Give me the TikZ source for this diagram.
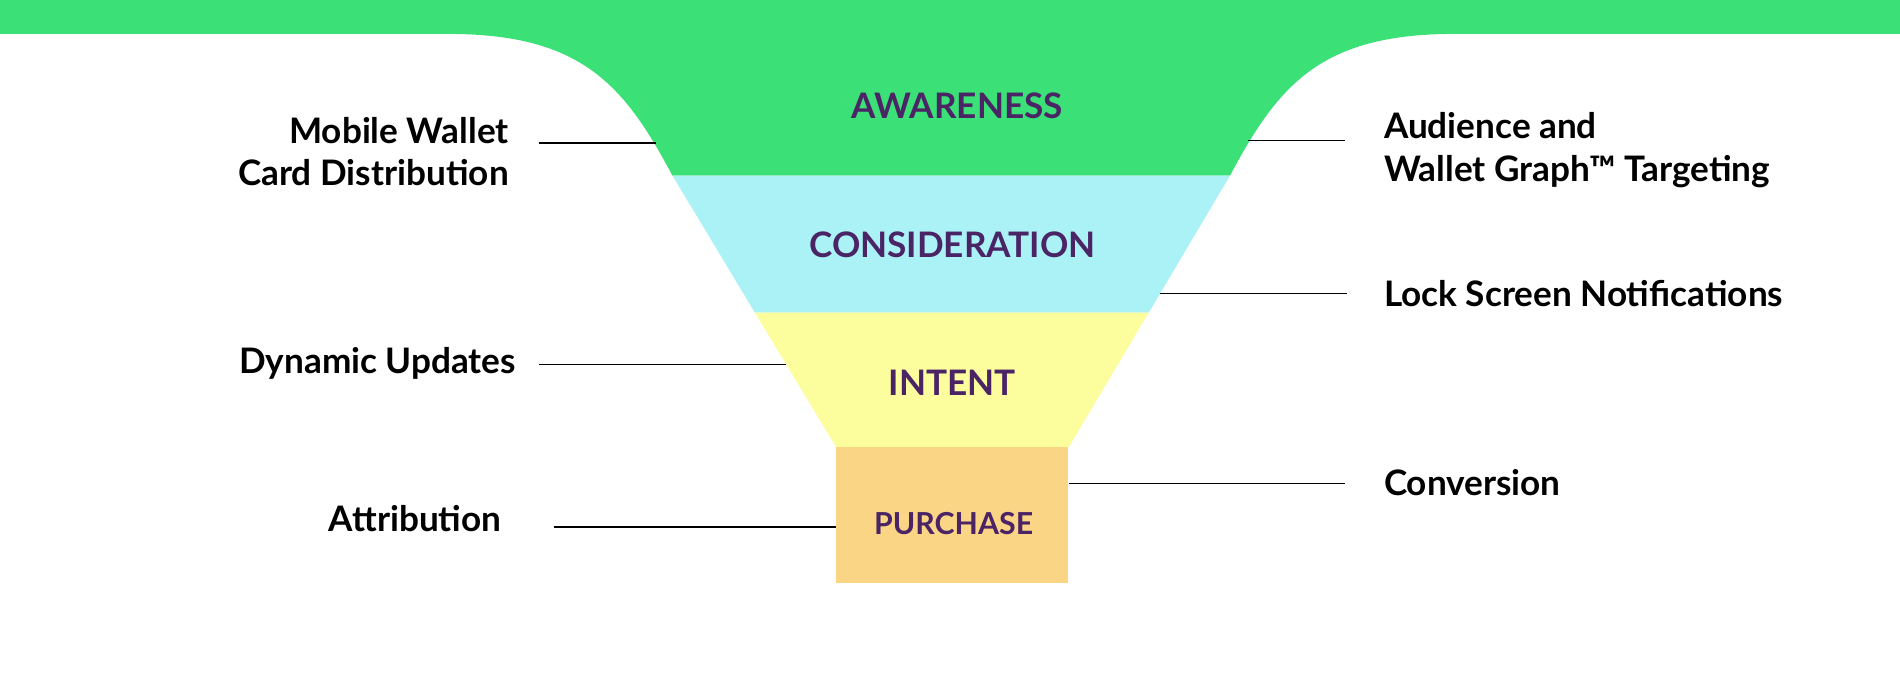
\documentclass[tikz,border=0pt]{standalone}
\usepackage{fontspec}
\setmainfont{Lato}
\definecolor{gr}{HTML}{3BE176}
\definecolor{cy}{HTML}{AAF2F6}
\definecolor{ye}{HTML}{FCFE9E}
\definecolor{or}{HTML}{FAD586}
\definecolor{pu}{HTML}{4B2466}
\begin{document}
\begin{tikzpicture}[x=1pt,y=-1pt,
  stage/.style={font=\bfseries\fontsize{29}{30}\selectfont,text=pu},
  lbl/.style={font=\bfseries\fontsize{29}{35}\selectfont,text=black,inner sep=0pt},
  ln/.style={line width=1.2pt}]
\useasboundingbox (0,0) rectangle (1568,557);
\fill[gr] (0,0) rectangle (1568,28);
\fill[gr] (370,28) .. controls (480,28) and (515,70) .. (555,145) -- (1015,145) .. controls (1055,70) and (1090,28) .. (1200,28) -- cycle;
\fill[cy] (555,145) -- (1015,145) -- (948,258) -- (623,258) -- cycle;
\fill[ye] (623,258) -- (948,258) -- (882,369) -- (690,369) -- cycle;
\fill[or] (690,369) rectangle (881,481);
\node[stage] (aw) at (790,87) {AWARENESS};
\node[stage] (co) at (786,202) {CONSIDERATION};
\node[stage] (in) at (786,316) {INTENT};
\node[stage,font=\bfseries\fontsize{25}{30}\selectfont] (pu) at (787,432) {PURCHASE};
\node[lbl,anchor=east,align=right] (mw) at (420,125) {Mobile Wallet\\Card Distribution};
\node[lbl,anchor=east] (dy) at (426,300) {Dynamic Updates};
\node[lbl,anchor=east] (at) at (414,428) {Attribution};
\node[lbl,anchor=west,align=left] (au) at (1142,124) {Audience and\\Wallet Graph™ Targeting};
\node[lbl,anchor=west] (lo) at (1142,242) {Lock Screen Notifications};
\node[lbl,anchor=west] (cv) at (1142,398) {Conversion};
\coordinate (a1) at (445,118); \coordinate (a2) at (541,118);
\coordinate (b1) at (1030,116); \coordinate (b2) at (1110,116);
\coordinate (c1) at (957,242); \coordinate (c2) at (1112,242);
\coordinate (d1) at (445,301); \coordinate (d2) at (649,301);
\coordinate (e1) at (882,399); \coordinate (e2) at (1110,399);
\coordinate (f1) at (457,435); \coordinate (f2) at (690,435);
\draw[ln] (a1)--(a2); \draw[ln] (b1)--(b2); \draw[ln] (c1)--(c2);
\draw[ln] (d1)--(d2); \draw[ln] (e1)--(e2); \draw[ln] (f1)--(f2);
\end{tikzpicture}
\end{document}
